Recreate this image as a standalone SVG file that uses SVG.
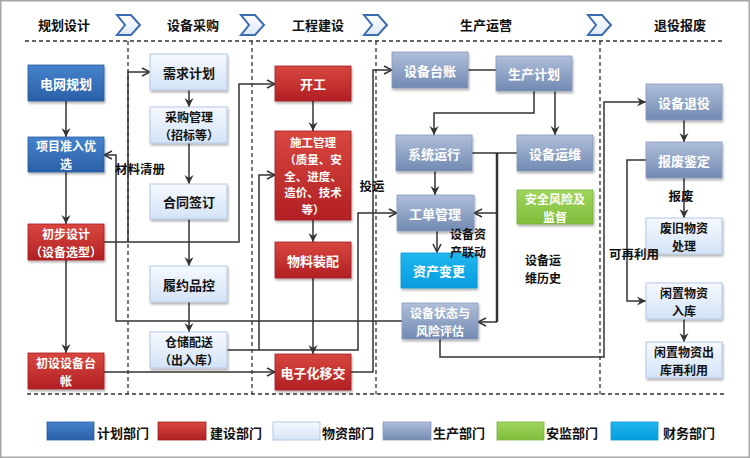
<svg xmlns="http://www.w3.org/2000/svg" width="750" height="458" viewBox="0 0 750 458">
<defs>
<linearGradient id="gBlue" x1="0" y1="0" x2="0" y2="1"><stop offset="0" stop-color="#4683cc"/><stop offset="1" stop-color="#2a60a8"/></linearGradient>
<linearGradient id="gRed" x1="0" y1="0" x2="0" y2="1"><stop offset="0" stop-color="#d8473f"/><stop offset="1" stop-color="#b12024"/></linearGradient>
<linearGradient id="gLight" x1="0" y1="0" x2="0" y2="1"><stop offset="0" stop-color="#f6f9fe"/><stop offset="1" stop-color="#d3e3f6"/></linearGradient>
<linearGradient id="gGray" x1="0" y1="0" x2="0" y2="1"><stop offset="0" stop-color="#b0bfda"/><stop offset="1" stop-color="#7189b2"/></linearGradient>
<linearGradient id="gGreen" x1="0" y1="0" x2="0" y2="1"><stop offset="0" stop-color="#a0d55c"/><stop offset="1" stop-color="#80bd3c"/></linearGradient>
<linearGradient id="gCyan" x1="0" y1="0" x2="0" y2="1"><stop offset="0" stop-color="#22b6ee"/><stop offset="1" stop-color="#069ddf"/></linearGradient>
<linearGradient id="gChev" x1="0" y1="0" x2="0" y2="1"><stop offset="0" stop-color="#ffffff"/><stop offset="1" stop-color="#dde8f6"/></linearGradient>
<filter id="sh" x="-10%" y="-10%" width="130%" height="140%"><feDropShadow dx="1" dy="2" stdDeviation="1.2" flood-color="#000" flood-opacity="0.3"/></filter>
<marker id="arr" markerWidth="10" markerHeight="10" refX="9" refY="5" orient="auto" markerUnits="userSpaceOnUse"><path d="M1,1 L9,5 L1,9" fill="none" stroke="#333" stroke-width="1.5"/></marker>
<marker id="barb" markerWidth="10" markerHeight="10" refX="9" refY="5" orient="auto" markerUnits="userSpaceOnUse"><path d="M0,0.5 L9,5 L0,9.5 L3,5 Z" fill="#333"/></marker>
<style>
text{font-family:"Noto Sans CJK SC","Noto Sans",sans-serif;font-weight:bold;font-size:13px;text-anchor:middle;dominant-baseline:central}
.w{fill:#fff}
.k{fill:#111}
.t2{font-size:12px}
.t5{font-size:11.5px}
.lbl{fill:#111;font-size:12.5px}
.lbl2{fill:#111;font-size:12px}
.lg{fill:#111;text-anchor:start}
.blue{fill:url(#gBlue);stroke:#2a5c9f;stroke-width:0.8;filter:url(#sh)}
.red{fill:url(#gRed);stroke:#a61d20;stroke-width:0.8;filter:url(#sh)}
.light{fill:url(#gLight);stroke:#b3c9e6;stroke-width:1;filter:url(#sh)}
.gray{fill:url(#gGray);stroke:#8799bd;stroke-width:0.8;filter:url(#sh)}
.green{fill:url(#gGreen);stroke:#78b23a;stroke-width:0.8;filter:url(#sh)}
.cyan{fill:url(#gCyan);stroke:#0a96d4;stroke-width:0.8;filter:url(#sh)}
.dash{stroke:#333;stroke-width:1.3;stroke-dasharray:4,3;fill:none}
.c{fill:none;stroke:#333;stroke-width:1.5}
.a{marker-end:url(#arr)}
.b{marker-end:url(#barb)}
.chev{fill:url(#gChev);stroke:#3b6db2;stroke-width:2}
</style>
</defs>
<rect x="0.75" y="0.75" width="748.5" height="456.5" fill="#fff" stroke="#a6a6a6" stroke-width="1.5"/>

<g id="header">
<text x="64" y="24" class="k">规划设计</text>
<text x="193" y="24" class="k">设备采购</text>
<text x="318" y="24" class="k">工程建设</text>
<text x="486" y="24" class="k">生产运营</text>
<text x="680" y="24" class="k">退役报废</text>
<polygon class="chev" points="117,15 131,15 140,25 131,35 117,35 125,25"/>
<polygon class="chev" points="241,15 255,15 264,25 255,35 241,35 249,25"/>
<polygon class="chev" points="364,15 378,15 387,25 378,35 364,35 372,25"/>
<polygon class="chev" points="588,15 602,15 611,25 602,35 588,35 596,25"/>
</g>

<g id="frame">
<line class="dash" x1="25" y1="41" x2="725" y2="41"/>
<line class="dash" x1="27" y1="394" x2="725" y2="394"/>
<line class="dash" x1="128" y1="41" x2="128" y2="394"/>
<line class="dash" x1="252" y1="41" x2="252" y2="394"/>
<line class="dash" x1="376" y1="41" x2="376" y2="394"/>
<line class="dash" x1="600" y1="41" x2="600" y2="394"/>
</g>

<g id="connectors">
<path class="c b" d="M66,101 V137"/>
<path class="c b" d="M66,172 V224"/>
<path class="c b" d="M66,260 V353"/>
<path class="c a" d="M104,242 H239 V84 H275"/>
<path class="c a" d="M128,242 V72 H150"/>
<path class="c b" d="M189,90 V107"/>
<path class="c b" d="M189,143 V184"/>
<path class="c b" d="M189,219 V266"/>
<path class="c b" d="M189,302 V332"/>
<path class="c a" d="M227,350 H358 V213 H397"/>
<path class="c a" d="M259,350 V175 H275"/>
<path class="c b" d="M313,101 V131"/>
<path class="c b" d="M313,220 V242"/>
<path class="c b" d="M313,278 V354"/>
<path class="c a" d="M104,372 H275"/>
<path class="c a" d="M351,372 H373 V70 H392"/>
<path class="c" d="M468,70 H496"/>
<path class="c b" d="M534,91 V113 H434 V135"/>
<path class="c b" d="M555,91 V135"/>
<path class="c b" d="M435,171 V195"/>
<path class="c" d="M472,153 H517"/>
<path class="c" d="M497,153 V322" style="stroke-width:2.5"/>
<path class="c a" d="M497,213 H474"/>
<path class="c a" d="M497,322 H478"/>
<path class="c a" d="M437,231 V252"/>
<path class="c b" d="M440,339 V357 H604 V102 H646"/>
<path class="c a" d="M402,321 H116 V155 H104"/>
<path class="c b" d="M684,120 V142"/>
<path class="c b" d="M684,178 V218"/>
<path class="c b" d="M684,319 V342"/>
<path class="c b" d="M646,160 H627 V301 H646"/>
</g>

<g id="n-dwgh"><rect class="blue" x="28" y="65" width="76" height="36"/><text x="66" y="83" class="w">电网规划</text></g>
<g id="n-xmzr"><rect class="blue" x="28" y="137" width="76" height="35"/><text x="66" y="145.75" class="w t2">项目准入优<tspan x="66" dy="17.5">选</tspan></text></g>
<g id="n-cbsj"><rect class="red" x="28" y="224" width="76" height="36"/><text x="66" y="233.25" class="w t2">初步设计<tspan x="66" dy="17.5">（设备选型）</tspan></text></g>
<g id="n-cssb"><rect class="red" x="28" y="353" width="76" height="36"/><text x="66" y="362.25" class="w t2">初设设备台<tspan x="66" dy="17.5">帐</tspan></text></g>

<g id="n-xqjh"><rect class="light" x="150" y="54" width="77" height="36"/><text x="189" y="72" class="k">需求计划</text></g>
<g id="n-cggl"><rect class="light" x="150" y="107" width="77" height="36"/><text x="189" y="116.25" class="k t2">采购管理<tspan x="189" dy="17.5">（招标等）</tspan></text></g>
<g id="n-htqd"><rect class="light" x="150" y="184" width="77" height="35"/><text x="189" y="201.5" class="k">合同签订</text></g>
<g id="n-lypk"><rect class="light" x="150" y="266" width="77" height="36"/><text x="189" y="284" class="k">履约品控</text></g>
<g id="n-ccps"><rect class="light" x="150" y="332" width="77" height="36"/><text x="189" y="341.25" class="k t2">仓储配送<tspan x="189" dy="17.5">（出入库）</tspan></text></g>

<g id="n-kg"><rect class="red" x="275" y="66" width="76" height="35"/><text x="313" y="83.5" class="w">开工</text></g>
<g id="n-sggl"><rect class="red" x="275" y="131" width="76" height="89"/><text x="313" y="142.2" class="w t5">施工管理<tspan x="313" dy="16.7">（质量、安</tspan><tspan x="313" dy="16.7">全、进度、</tspan><tspan x="313" dy="16.7">造价、技术</tspan><tspan x="313" dy="16.7">等）</tspan></text></g>
<g id="n-wlzp"><rect class="red" x="275" y="242" width="76" height="36"/><text x="313" y="260" class="w">物料装配</text></g>
<g id="n-dzhyj"><rect class="red" x="275" y="354" width="76" height="36"/><text x="313" y="372" class="w">电子化移交</text></g>

<g id="n-sbtz"><rect class="gray" x="392" y="52" width="76" height="36"/><text x="430" y="70" class="w">设备台账</text></g>
<g id="n-scjh"><rect class="gray" x="496" y="56" width="76" height="35"/><text x="534" y="73.5" class="w">生产计划</text></g>
<g id="n-xtyx"><rect class="gray" x="396" y="135" width="76" height="36"/><text x="434" y="153" class="w">系统运行</text></g>
<g id="n-sbyw"><rect class="gray" x="517" y="135" width="76" height="36"/><text x="555" y="153" class="w">设备运维</text></g>
<g id="n-gdgl"><rect class="gray" x="397" y="195" width="77" height="36"/><text x="435" y="213" class="w">工单管理</text></g>
<g id="n-aqfx"><rect class="green" x="517" y="190" width="76" height="34"/><text x="555" y="198.25" class="w t2">安全风险及<tspan x="555" dy="17.5">监督</tspan></text></g>
<g id="n-zcbg"><rect class="cyan" x="401" y="253" width="76" height="35"/><text x="439" y="270.5" class="w">资产变更</text></g>
<g id="n-sbzt"><rect class="gray" x="402" y="303" width="76" height="36"/><text x="440" y="312.25" class="w t2">设备状态与<tspan x="440" dy="17.5">风险评估</tspan></text></g>

<g id="n-sbty"><rect class="gray" x="646" y="84" width="76" height="36"/><text x="684" y="102" class="w">设备退役</text></g>
<g id="n-bfjd"><rect class="gray" x="646" y="142" width="76" height="36"/><text x="684" y="160" class="w">报废鉴定</text></g>
<g id="n-fjwz"><rect class="light" x="646" y="218" width="76" height="36"/><text x="684" y="227.25" class="k t2">废旧物资<tspan x="684" dy="17.5">处理</tspan></text></g>
<g id="n-xzrk"><rect class="light" x="646" y="283" width="76" height="36"/><text x="684" y="292.25" class="k t2">闲置物资<tspan x="684" dy="17.5">入库</tspan></text></g>
<g id="n-xzck"><rect class="light" x="646" y="342" width="76" height="36"/><text x="684" y="351.25" class="k t2">闲置物资出<tspan x="684" dy="17.5">库再利用</tspan></text></g>

<g id="labels">
<text x="140" y="168" class="lbl">材料清册</text>
<text x="372" y="185" class="lbl">投运</text>
<text x="468" y="233.75" class="lbl2">设备资<tspan x="468" dy="17.5">产联动</tspan></text>
<text x="543" y="259.75" class="lbl2">设备运<tspan x="543" dy="17.5">维历史</tspan></text>
<text x="634" y="253" class="lbl">可再利用</text>
<text x="681" y="195" class="lbl">报废</text>
</g>

<g id="legend">
<rect class="blue" x="47" y="422" width="47" height="18" style="filter:none"/><text x="97" y="432" class="lg">计划部门</text>
<rect class="red" x="158" y="422" width="48" height="18" style="filter:none"/><text x="210" y="432" class="lg">建设部门</text>
<rect class="light" x="273" y="422" width="47" height="18" style="filter:none"/><text x="322" y="432" class="lg">物资部门</text>
<rect class="gray" x="383" y="422" width="48" height="18" style="filter:none"/><text x="433" y="432" class="lg">生产部门</text>
<rect class="green" x="497" y="422" width="47" height="18" style="filter:none"/><text x="546" y="432" class="lg">安监部门</text>
<rect class="cyan" x="611" y="422" width="47" height="18" style="filter:none"/><text x="663" y="432" class="lg">财务部门</text>
</g>
</svg>
